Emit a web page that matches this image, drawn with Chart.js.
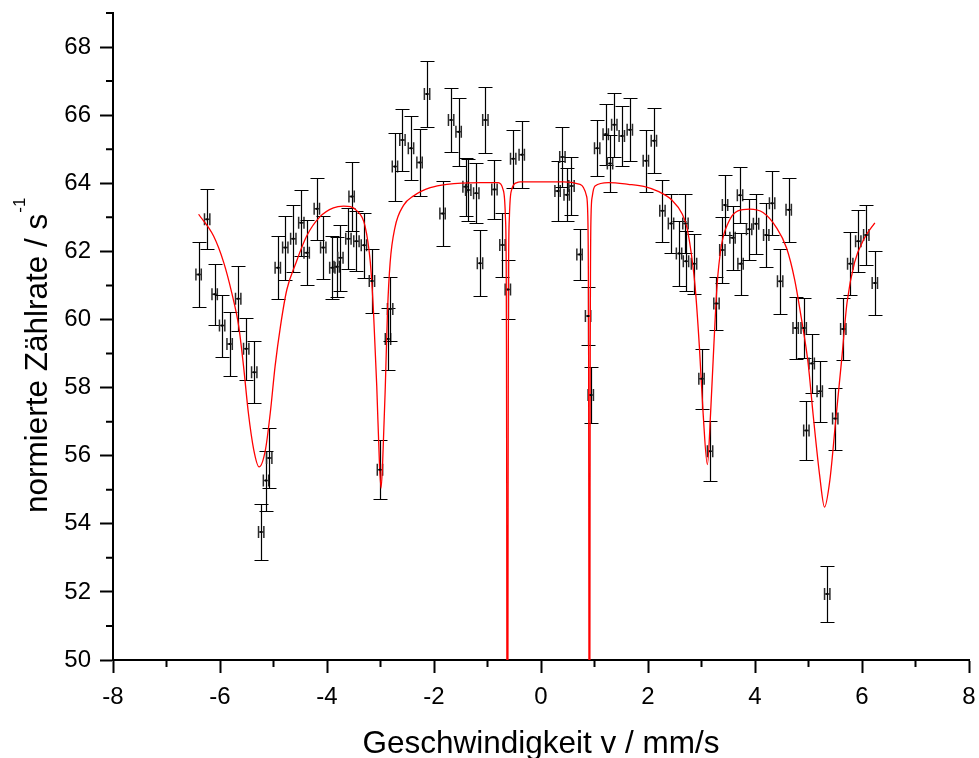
<!DOCTYPE html>
<html>
<head>
<meta charset="utf-8">
<script src="https://cdn.jsdelivr.net/npm/chart.js@4.4.1/dist/chart.umd.min.js"></script>
<style>
    body { margin: 0; background: #ffffff; }
    #wrap { width: 979px; height: 758px; }
</style>
</head>
<body>
<div id="wrap"><canvas id="chart" width="979" height="758"></canvas></div>
<script>
// messpunkte (geschwindigkeit, zaehlrate, fehler)
const velocity = [
    -6.40, -6.24, -6.10, -5.96, -5.82, -5.66, -5.51, -5.36, -5.23, -5.14,
    -5.08, -4.92, -4.78, -4.63, -4.48, -4.38, -4.19, -4.07, -3.90, -3.82,
    -3.75, -3.60, -3.54, -3.45, -3.31, -3.16, -3.01, -2.86, -2.82, -2.73,
    -2.59, -2.43, -2.27, -2.13, -1.84, -1.68, -1.54, -1.41, -1.36, -1.21,
    -1.14, -1.04, -0.87, -0.72, -0.62, -0.52, -0.36, 0.31, 0.40, 0.48,
    0.57, 0.72, 0.88, 0.93, 1.05, 1.21, 1.29, 1.37, 1.51, 1.66,
    1.96, 2.11, 2.27, 2.43, 2.58, 2.70, 2.71, 2.86, 3.00, 3.16,
    3.28, 3.39, 3.44, 3.58, 3.72, 3.73, 3.89, 4.02, 4.21, 4.32,
    4.47, 4.63, 4.76, 4.91, 4.96, 5.06, 5.21, 5.35, 5.50, 5.65,
    5.78, 5.93, 6.08, 6.24
]
const count_rate = [
    61.32, 62.94, 60.74, 59.82, 59.28, 60.61, 59.14, 58.45, 53.76, 55.27,
    55.93, 61.52, 62.11, 62.37, 62.84, 61.96, 63.25, 62.11, 61.52, 61.55,
    61.81, 62.37, 63.61, 62.30, 62.18, 61.13, 55.59, 59.43, 60.31, 64.49,
    65.27, 65.03, 64.61, 66.62, 63.11, 65.86, 65.51, 63.90, 63.80, 63.71,
    61.65, 65.86, 63.82, 62.19, 60.88, 64.72, 64.84, 63.77, 64.77, 63.66,
    63.92, 61.91, 60.10, 57.78, 65.03, 65.44, 64.58, 65.72, 65.39, 65.57,
    64.66, 65.25, 63.19, 62.82, 61.94, 62.82, 61.71, 61.64, 58.26, 56.13,
    60.47, 62.04, 63.36, 62.40, 63.65, 61.64, 62.65, 62.81, 62.48, 63.41,
    61.12, 63.22, 59.75, 59.75, 56.74, 58.71, 57.89, 51.94, 57.09, 59.72,
    61.64, 62.30, 62.48, 61.07
]
const count_err = [
    0.96, 0.88, 0.90, 0.91, 0.93, 0.96, 0.91, 0.91, 0.82, 0.88,
    0.87, 0.93, 0.94, 0.99, 0.97, 0.95, 0.91, 0.92, 0.93, 0.88,
    0.97, 0.90, 1.00, 0.88, 0.96, 0.93, 0.87, 0.92, 0.93, 1.00,
    0.91, 0.94, 0.99, 0.97, 0.96, 0.94, 1.00, 0.85, 0.90, 0.88,
    0.97, 0.96, 0.87, 0.95, 0.86, 0.85, 0.99, 0.87, 0.88, 0.78,
    0.85, 0.76, 0.84, 0.83, 0.82, 0.89, 0.83, 0.94, 0.88, 0.92,
    0.91, 0.96, 0.91, 0.86, 0.95, 0.86, 0.88, 0.88, 0.88, 0.88,
    0.78, 0.96, 0.88, 0.94, 0.83, 0.91, 0.90, 0.88, 0.93, 0.94,
    0.96, 0.94, 0.90, 0.88, 0.87, 0.86, 0.89, 0.82, 0.91, 0.92,
    0.92, 0.91, 0.87, 0.94
]
const velocity_err = 0.05

// fitkurve
const fit_velocity = [
    -6.40, -6.12, -5.93, -5.78, -5.65, -5.56, -5.47, -5.37, -5.27, -5.15,
    -5.06, -4.97, -4.87, -4.75, -4.59, -4.38, -4.13, -3.88, -3.69, -3.44,
    -3.29, -3.19, -3.13, -3.07, -3.02, -2.99, -2.96, -2.91, -2.87, -2.82,
    -2.73, -2.57, -2.38, -2.07, -1.76, -1.14, -0.80, -0.71, -0.666, -0.65,
    -0.645, -0.641, -0.638, -0.628, -0.618, -0.615, -0.611, -0.606, -0.59, -0.546,
    -0.45, -0.39, 0.42, 0.73, 0.85, 0.875, 0.885, 0.89, 0.893, 0.896,
    0.905, 0.914, 0.917, 0.92, 0.925, 0.935, 0.96, 1.01, 1.26, 1.63,
    1.94, 2.19, 2.45, 2.64, 2.72, 2.78, 2.88, 2.96, 3.03, 3.11,
    3.17, 3.23, 3.29, 3.37, 3.50, 3.68, 3.90, 4.15, 4.40, 4.59,
    4.74, 4.87, 4.99, 5.09, 5.21, 5.30, 5.40, 5.51, 5.62, 5.72,
    5.86, 6.05, 6.24
]
const fit_rate = [
    63.09, 62.45, 61.67, 60.78, 59.80, 58.63, 57.26, 56.18, 55.67, 56.18,
    57.26, 58.63, 59.80, 60.88, 61.62, 62.45, 63.02, 63.28, 63.33, 63.19,
    62.75, 61.67, 60.20, 58.04, 55.79, 55.05, 55.79, 58.04, 60.20, 61.67,
    62.70, 63.35, 63.63, 63.87, 63.97, 64.02, 64.02, 63.82, 63.04, 61.50,
    59.00, 55.00, 50.00, 30.00, 50.00, 55.00, 59.00, 61.50, 63.04, 63.82,
    64.02, 64.04, 64.04, 63.97, 63.63, 63.04, 61.50, 59.00, 55.00, 50.00,
    30.00, 50.00, 55.00, 59.00, 61.50, 63.04, 63.63, 63.92, 64.02, 63.97,
    63.90, 63.76, 63.50, 63.10, 62.75, 62.25, 60.98, 59.21, 57.25, 55.74,
    57.25, 59.21, 60.98, 62.15, 62.84, 63.19, 63.24, 63.14, 62.70, 62.10,
    61.18, 60.00, 58.75, 57.15, 55.40, 54.49, 55.29, 57.06, 58.82, 60.49,
    61.67, 62.40, 62.84
]

const x_major_ticks = [-8, -6, -4, -2, 0, 2, 4, 6, 8]
const x_minor_ticks = [-7, -5, -3, -1, 1, 3, 5, 7]
const y_major_ticks = [50, 52, 54, 56, 58, 60, 62, 64, 66, 68]
const y_minor_ticks = [51, 53, 55, 57, 59, 61, 63, 65, 67, 69]

const font_family = "'Liberation Sans', Arial, sans-serif"

function make_points(xs, ys) {
    let points = []
    for (let i = 0; i < xs.length; i ++) {
        points.push({x: xs[i], y: ys[i]})
    }
    return points
}

function clear_scale_padding(scale) {
    scale.paddingTop = 0
    scale.paddingBottom = 0
    scale.paddingLeft = 0
    scale.paddingRight = 0
}

const error_bar_plugin = {
    id: 'error_bars',
    beforeDatasetsDraw(chart) {
        let ctx = chart.ctx
        let x_scale = chart.scales.x
        let y_scale = chart.scales.y
        let area = chart.chartArea
        ctx.save()
        ctx.beginPath()
        ctx.rect(area.left, area.top, area.right - area.left, area.bottom - area.top)
        ctx.clip()
        for (let i = 0; i < velocity.length; i ++) {
            let px = Math.round(x_scale.getPixelForValue(velocity[i])) + 0.5
            let py = y_scale.getPixelForValue(count_rate[i])
            let py_top = Math.round(y_scale.getPixelForValue(count_rate[i] + count_err[i])) + 0.5
            let py_bottom = Math.round(y_scale.getPixelForValue(count_rate[i] - count_err[i])) + 0.5
            ctx.strokeStyle = '#000000'
            ctx.lineWidth = 1.2
            ctx.beginPath()
            ctx.moveTo(px, py_top)
            ctx.lineTo(px, py_bottom)
            ctx.moveTo(px - 7, py_top)
            ctx.lineTo(px + 7, py_top)
            ctx.moveTo(px - 7, py_bottom)
            ctx.lineTo(px + 7, py_bottom)
            ctx.stroke()

            // horizontaler fehlerbalken
            let px_left = x_scale.getPixelForValue(velocity[i] - velocity_err)
            let px_right = x_scale.getPixelForValue(velocity[i] + velocity_err)
            ctx.strokeStyle = '#2a2a2a'
            ctx.lineWidth = 1.5
            ctx.beginPath()
            ctx.moveTo(px_left, py)
            ctx.lineTo(px_right, py)
            ctx.moveTo(px_left, py - 6)
            ctx.lineTo(px_left, py + 6)
            ctx.moveTo(px_right, py - 6)
            ctx.lineTo(px_right, py + 6)
            ctx.stroke()
        }
        ctx.restore()
    }
}

const axis_extras_plugin = {
    id: 'axis_extras',
    afterDraw(chart) {
        let ctx = chart.ctx
        let x_scale = chart.scales.x
        let y_scale = chart.scales.y
        let area = chart.chartArea
        ctx.save()
        ctx.strokeStyle = '#000000'
        ctx.lineWidth = 2
        ctx.beginPath()
        for (let i = 0; i < x_minor_ticks.length; i ++) {
            let px = x_scale.getPixelForValue(x_minor_ticks[i])
            ctx.moveTo(px, area.bottom)
            ctx.lineTo(px, area.bottom + 7)
        }
        for (let i = 0; i < y_minor_ticks.length; i ++) {
            let py = y_scale.getPixelForValue(y_minor_ticks[i])
            ctx.moveTo(area.left, py)
            ctx.lineTo(area.left - 7, py)
        }
        ctx.stroke()

        ctx.fillStyle = '#000000'
        ctx.textBaseline = 'alphabetic'

        // x titel
        ctx.font = '31.5px ' + font_family
        ctx.textAlign = 'center'
        ctx.fillText('Geschwindigkeit v / mm/s', (area.left + area.right) / 2, 753)

        // y titel mit hochgestellter -1
        ctx.translate(47, 513)
        ctx.rotate(-Math.PI / 2)
        ctx.textAlign = 'left'
        ctx.font = '31.5px ' + font_family
        let main_text = 'normierte Zählrate / s'
        ctx.fillText(main_text, 0, 0)
        let w = ctx.measureText(main_text).width
        ctx.font = '17px ' + font_family
        ctx.fillText('-1', w + 1, -22)
        ctx.restore()
    }
}

let graph = new Chart(document.getElementById('chart'), {
    type: 'scatter',
    data: {
        datasets: [
            {
                label: 'Messwerte',
                data: make_points(velocity, count_rate),
                pointStyle: 'rect',
                pointRadius: 1.4,
                pointBackgroundColor: '#000000',
                pointBorderWidth: 0,
                showLine: false,
                order: 0
            },
            {
                label: 'Fit',
                type: 'line',
                data: make_points(fit_velocity, fit_rate),
                borderColor: '#ff0000',
                borderWidth: 1.3,
                pointRadius: 0,
                fill: false,
                cubicInterpolationMode: 'monotone',
                order: 1
            }
        ]
    },
    options: {
        responsive: false,
        animation: false,
        events: [],
        layout: {
            padding: {top: 13, right: 10, left: 0, bottom: 0}
        },
        plugins: {
            legend: {display: false},
            tooltip: {enabled: false}
        },
        scales: {
            x: {
                type: 'linear',
                min: -8,
                max: 8,
                afterBuildTicks: (scale) => {
                    scale.ticks = x_major_ticks.map(v => ({value: v}))
                },
                afterFit: (scale) => {
                    scale.height = 98
                    clear_scale_padding(scale)
                },
                grid: {
                    drawOnChartArea: false,
                    drawTicks: true,
                    tickLength: 13,
                    tickWidth: 2,
                    tickColor: '#000000'
                },
                border: {display: true, color: '#000000', width: 2},
                ticks: {
                    color: '#000000',
                    padding: 10,
                    maxRotation: 0,
                    font: {family: font_family, size: 24}
                }
            },
            y: {
                type: 'linear',
                min: 50,
                max: 69,
                afterBuildTicks: (scale) => {
                    scale.ticks = y_major_ticks.map(v => ({value: v}))
                },
                afterFit: (scale) => {
                    scale.width = 113
                    clear_scale_padding(scale)
                },
                grid: {
                    drawOnChartArea: false,
                    drawTicks: true,
                    tickLength: 13,
                    tickWidth: 2,
                    tickColor: '#000000'
                },
                border: {display: true, color: '#000000', width: 2},
                ticks: {
                    color: '#000000',
                    padding: 9,
                    font: {family: font_family, size: 24}
                }
            }
        }
    },
    plugins: [error_bar_plugin, axis_extras_plugin]
})
</script>
</body>
</html>
